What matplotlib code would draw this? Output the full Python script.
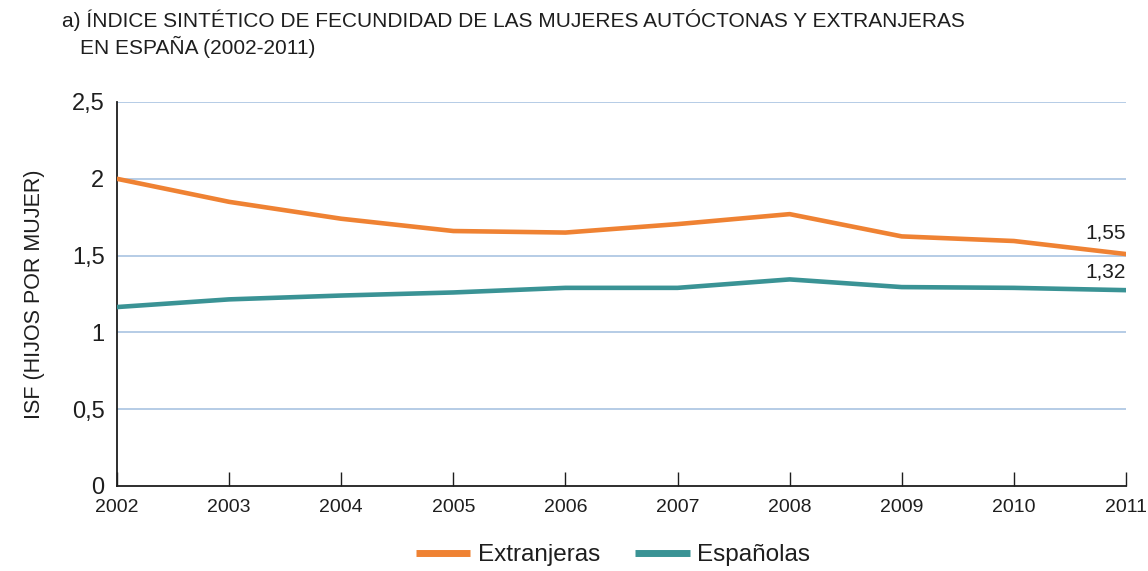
import matplotlib
matplotlib.use("Agg")
import matplotlib.pyplot as plt
from matplotlib.ticker import FuncFormatter

years = [2002, 2003, 2004, 2005, 2006, 2007, 2008, 2009, 2010, 2011]
extranjeras = [2.00, 1.85, 1.74, 1.66, 1.65, 1.705, 1.77, 1.625, 1.595, 1.51]
espanolas = [1.165, 1.215, 1.24, 1.26, 1.29, 1.29, 1.345, 1.295, 1.29, 1.275]
yticks = [0, 0.5, 1, 1.5, 2, 2.5]
end_labels = ["1,55", "1,32"]
series_names = ["Extranjeras", "Españolas"]

plt.rcParams['font.family'] = ['Liberation Sans', 'DejaVu Sans']

ORANGE = "#EF8233"
TEAL = "#3A9395"
GRID = "#A9C3E2"
DARK = "#1E1E1E"

fig = plt.figure(figsize=(11.48, 5.71), dpi=100)
ax = fig.add_axes([117/1148, 85/571, (1126-117)/1148, (486-102)/571])

for v in yticks[1:]:
    ax.axhline(v, color=GRID, lw=1.2, zorder=1)

ax.plot(years, extranjeras, color=ORANGE, lw=3.3, solid_capstyle='round', zorder=3, label=series_names[0])
ax.plot(years, espanolas, color=TEAL, lw=3.3, solid_capstyle='round', zorder=3, label=series_names[1])

ax.set_xlim(years[0], years[-1])
ax.set_ylim(0, 2.5)
ax.set_xticks(years)
ax.set_yticks(yticks)
ax.yaxis.set_major_formatter(FuncFormatter(lambda v, p: f"{v:g}".replace(".", ",")))
ax.tick_params(axis='x', direction='in', length=10, width=1, color=DARK, labelsize=14, pad=9, labelcolor=DARK)
ax.tick_params(axis='y', length=0, labelsize=17, pad=9, labelcolor=DARK)
for s in ['top', 'right']:
    ax.spines[s].set_visible(False)
for s in ['left', 'bottom']:
    ax.spines[s].set_color(DARK)
    ax.spines[s].set_linewidth(1.3)
ax.spines['bottom'].set_zorder(4)

ax.text(years[-1], extranjeras[-1] + 0.14, end_labels[0], ha='right', va='center', fontsize=15, color=DARK)
ax.text(years[-1], espanolas[-1] + 0.12, end_labels[1], ha='right', va='center', fontsize=15, color=DARK)

ax.set_ylabel("ISF (HIJOS POR MUJER)", fontsize=15.5, color=DARK)
ax.yaxis.set_label_coords(-0.071, 0.5)

fig.text(62/1148, 1 - 20/571, "a) ÍNDICE SINTÉTICO DE FECUNDIDAD DE LAS MUJERES AUTÓCTONAS Y EXTRANJERAS",
         ha='left', va='center', fontsize=15, color=DARK)
fig.text(80/1148, 1 - 47/571, "EN ESPAÑA (2002-2011)", ha='left', va='center', fontsize=15, color=DARK)

leg = fig.legend(loc='center', bbox_to_anchor=(613/1148, 1 - 555/571), ncol=2, frameon=False,
                 fontsize=17.5, handlelength=2.25, handletextpad=0.3, columnspacing=1.45)
for h in leg.get_lines():
    h.set_linewidth(5)
    h.set_solid_capstyle('butt')
for t in leg.get_texts():
    t.set_color(DARK)

fig.savefig("out.png", dpi=100)
